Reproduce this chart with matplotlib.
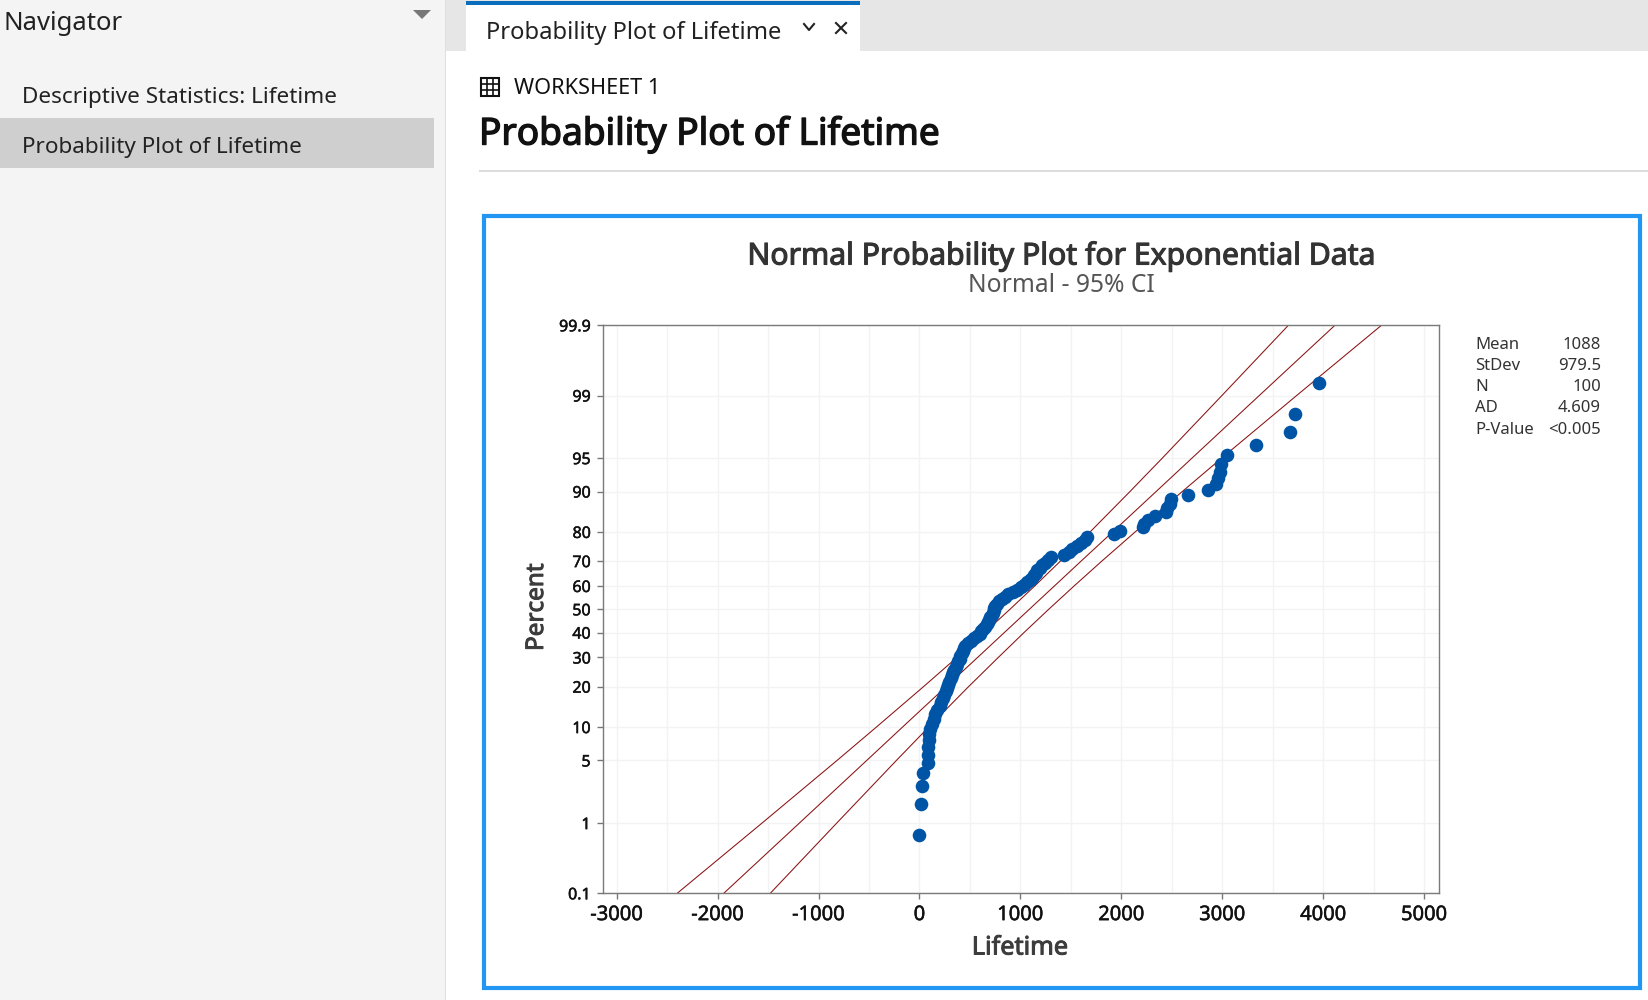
import numpy as np
import matplotlib
matplotlib.use('Agg')
import matplotlib.pyplot as plt
import matplotlib.patheffects as pe
from matplotlib.patches import Rectangle
from statistics import NormalDist

plt.rcParams['font.family'] = ['Noto Sans', 'DejaVu Sans']
plt.rcParams['axes.unicode_minus'] = False

# data
lifetime = [0, 10, 20, 30, 80, 85, 88, 92, 98, 105,
            125, 140, 155, 172, 200, 215, 230, 245, 258, 268,
            280, 292, 308, 322, 335, 346, 360, 372, 385, 398,
            405, 425, 435, 445, 455, 480, 510, 540, 570, 595,
            610, 630, 650, 665, 675, 690, 700, 716, 725, 735,
            740, 750, 770, 790, 820, 848, 880, 930, 964, 1010,
            1035, 1060, 1095, 1110, 1130, 1150, 1165, 1190, 1210, 1240,
            1270, 1300, 1430, 1480, 1510, 1560, 1600, 1640, 1660, 1930,
            1985, 2215, 2225, 2260, 2330, 2440, 2450, 2480, 2490, 2663,
            2860, 2935, 2960, 2975, 2990, 3046, 3333, 3671, 3721, 3958]
percent = [0.7, 1.7, 2.7, 3.7, 4.7, 5.7, 6.7, 7.7, 8.7, 9.7,
           10.7, 11.7, 12.7, 13.6, 14.6, 15.6, 16.6, 17.6, 18.6, 19.6,
           20.6, 21.6, 22.6, 23.6, 24.6, 25.6, 26.6, 27.6, 28.6, 29.6,
           30.6, 31.6, 32.6, 33.6, 34.6, 35.6, 36.6, 37.6, 38.6, 39.5,
           40.5, 41.5, 42.5, 43.5, 44.5, 45.5, 46.5, 47.5, 48.5, 49.5,
           50.5, 51.5, 52.5, 53.5, 54.5, 55.5, 56.5, 57.5, 58.5, 59.5,
           60.5, 61.5, 62.5, 63.5, 64.5, 65.5, 66.5, 67.4, 68.4, 69.4,
           70.4, 71.4, 72.4, 73.4, 74.4, 75.4, 76.4, 77.4, 78.4, 79.4,
           80.4, 81.4, 82.4, 83.4, 84.4, 85.4, 86.4, 87.4, 88.4, 89.4,
           90.3, 91.3, 92.3, 93.3, 94.3, 95.3, 96.3, 97.3, 98.3, 99.3]

line_pct = [0.1, 1, 5, 10, 20, 30, 40, 50, 60, 70, 80, 90, 95, 99, 99.9]
fit_center = [-1939, -1190, -523, -168, 263, 575, 840, 1088, 1336, 1601, 1913, 2344, 2699, 3366, 4115]
fit_upper = [-2400, -1560, -817, -427, 40, 370, 645, 896, 1141, 1396, 1690, 2085, 2405, 2996, 3654]
fit_lower = [-1478, -820, -229, 91, 486, 780, 1035, 1280, 1531, 1806, 2136, 2603, 2993, 3736, 4576]

x_ticks = [-3000, -2000, -1000, 0, 1000, 2000, 3000, 4000, 5000]
x_grid = [-2500, -1500, -500, 500, 1500, 2500, 3500, 4500]
y_ticks = [0.1, 1, 5, 10, 20, 30, 40, 50, 60, 70, 80, 90, 95, 99, 99.9]
y_labels = ['0.1', '1', '5', '10', '20', '30', '40', '50', '60', '70', '80', '90', '95', '99', '99.9']
stat_names = ['Mean', 'StDev', 'N', 'AD', 'P-Value']
stat_values = ['1088', '979.5', '100', '4.609', '<0.005']

W, H = 1648, 1000
norm = NormalDist()


def prob_forward(p):
    p = np.clip(np.asarray(p, dtype=float), 1e-4, 100 - 1e-4)
    return np.array([norm.inv_cdf(v / 100) for v in p.ravel()]).reshape(p.shape)


def prob_inverse(z):
    z = np.asarray(z, dtype=float)
    return np.array([norm.cdf(v) * 100 for v in z.ravel()]).reshape(z.shape)


def heavy(width, color):
    # Noto Sans has no semibold here, so thicken the regular weight a little
    return [pe.withStroke(linewidth=width, foreground=color)]


fig = plt.figure(figsize=(W / 100, H / 100), dpi=100, facecolor='white')

# window chrome, in pixel coordinates
bg = fig.add_axes([0, 0, 1, 1])
bg.set_xlim(0, W)
bg.set_ylim(H, 0)
bg.axis('off')


def box(x0, y0, x1, y1, color):
    bg.add_patch(Rectangle((x0, y0), x1 - x0, y1 - y0, fc=color, ec='none'))


box(0, 0, 445, H, '#f4f4f4')
box(445, 0, 446, H, '#dedede')
box(446, 0, W, 51, '#e6e6e6')
box(0, 118, 434, 168, '#cfcfcf')
box(466, 2, 860, 51, 'white')
box(466, 1, 860, 5, '#0a6ebd')
bg.fill([413, 431, 422], [10, 10, 19], color='#777777', lw=0)
bg.text(3, 24, 'Navigator', fontsize=18.5, color='#222222', va='center')
bg.text(22, 97, 'Descriptive Statistics: Lifetime', fontsize=16.2, color='#222222', va='center')
bg.text(22, 147, 'Probability Plot of Lifetime', fontsize=16.2, color='#222222', va='center')
bg.text(486, 33, 'Probability Plot of Lifetime', fontsize=17.1, color='#222222', va='center')
bg.plot([804, 809, 814], [24, 30, 24], color='#222222', lw=1.5)
bg.plot([836, 846], [23, 33], color='#222222', lw=1.5)
bg.plot([836, 846], [33, 23], color='#222222', lw=1.5)

# worksheet icon
bg.add_patch(Rectangle((481, 78), 18, 18, fc='none', ec='#111111', lw=1.5))
for k in [6, 12]:
    bg.plot([481 + k, 481 + k], [78, 96], color='#111111', lw=1.2)
    bg.plot([481, 499], [78 + k, 78 + k], color='#111111', lw=1.2)
bg.text(514, 89, 'WORKSHEET 1', fontsize=15.6, color='#111111', va='center')
bg.text(479, 135, 'Probability Plot of Lifetime', fontsize=26.7, color='#111111',
        va='center', path_effects=heavy(1.0, '#111111'))
box(479, 170, W, 172, '#dcdcdc')

# blue selection frame
bg.add_patch(Rectangle((484, 216), 1156, 772, fc='white', ec='#2196f3', lw=3))

bg.text(1061, 256, 'Normal Probability Plot for Exponential Data', fontsize=21.7, color='#333333',
        ha='center', va='center', path_effects=heavy(0.8, '#333333'))
bg.text(1061, 286, 'Normal - 95% CI', fontsize=17.7, color='#555555', ha='center', va='center')
bg.text(537, 607, 'Percent', fontsize=17.5, color='#3c3c3c', rotation=90, ha='center', va='center',
        path_effects=heavy(0.7, '#3c3c3c'))
bg.text(1020, 948, 'Lifetime', fontsize=18.2, color='#3c3c3c', ha='center', va='center',
        path_effects=heavy(0.7, '#3c3c3c'))

stat_y = [345, 366, 387, 408, 430]
for name, value, y in zip(stat_names, stat_values, stat_y):
    bg.text(1475, y, name, fontsize=12, color='#333333', va='center')
    bg.text(1601, y, value, fontsize=12, color='#333333', va='center', ha='right')

# probability plot
ax = fig.add_axes([602.5 / W, 1 - 893.3 / H, (1439 - 602.5) / W, (893.3 - 325.3) / H])
ax.set_yscale('function', functions=(prob_forward, prob_inverse))
ax.set_xlim(-3140, 5146)
ax.set_ylim(0.1, 99.9)
ax.patch.set_alpha(0)

ax.plot(fit_upper, line_pct, color='#8a1010', lw=0.75)
ax.plot(fit_center, line_pct, color='#8a1010', lw=0.75)
ax.plot(fit_lower, line_pct, color='#8a1010', lw=0.75)
ax.scatter(lifetime, percent, s=96, color='#0054a6', linewidths=0, zorder=3, clip_on=False)

ax.set_xticks(x_ticks)
ax.set_xticks(x_grid, minor=True)
ax.set_yticks(y_ticks)
ax.set_yticklabels(y_labels)
ax.yaxis.set_minor_locator(matplotlib.ticker.NullLocator())
ax.grid(True, which='both', color='#f3f3f3', lw=1)
ax.set_axisbelow(True)
ax.tick_params(axis='x', which='major', length=4.5, width=1, color='#777777', labelsize=14.5, pad=4,
               labelcolor='#111111')
ax.tick_params(axis='x', which='minor', length=0)
ax.tick_params(axis='y', which='major', length=4.5, width=1, color='#777777', labelsize=11.5, pad=4,
               labelcolor='#111111')
for lab in ax.get_xticklabels() + ax.get_yticklabels():
    lab.set_path_effects(heavy(0.35, '#111111'))
for s in ax.spines.values():
    s.set_color('#7a7a7a')
    s.set_linewidth(1)

fig.savefig('out.png', dpi=100)
